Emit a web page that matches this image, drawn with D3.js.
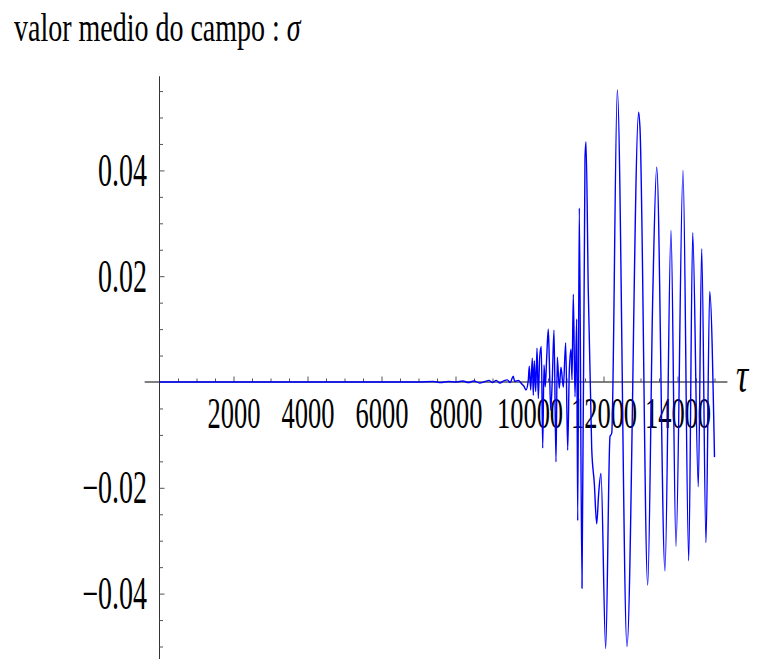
<!DOCTYPE html>
<html>
<head>
<meta charset="utf-8">
<script src="https://cdn.jsdelivr.net/npm/d3@7"></script>
<style>
  html, body { margin: 0; padding: 0; background: #fff; }
  svg { display: block; }
  text { font-family: "Liberation Serif", "Times New Roman", serif; fill: #000; }
</style>
</head>
<body>
<svg id="chart" width="761" height="659"></svg>
<script>
// Mean value of the field sigma as a function of tau
const tau = [0, 7000, 7400, 7600, 7800, 8000, 8200, 8350, 8500, 8650, 8800, 8900, 9000, 9100, 9200,
  9300, 9400, 9480, 9560, 9600, 9700, 9780, 9850, 9905, 9968, 9995, 10032, 10076, 10103, 10130,
  10168, 10203, 10238, 10276, 10319, 10357, 10392, 10427, 10465, 10508, 10535, 10573, 10616, 10662,
  10716, 10751, 10805, 10851, 10914, 10978, 11032, 11076, 11122, 11149, 11184, 11230, 11276, 11303,
  11346, 11419, 11500, 11527, 11589, 11681, 11751, 11816, 11870, 11932, 12059, 12176, 12222, 12373,
  12635, 12951, 12986, 13195, 13330, 13438, 13662, 13824, 13959, 14149, 14303, 14411, 14562, 14654,
  14770, 14870, 15000];

const sigma = [0, 0, 0.0001, -0.0001, 0.0001, 0, 0.0002, -0.0001, 0.0002, -0.0002, 0.0001, 0.0003,
  -0.0001, 0.0003, -0.0002, 0.0002, 0.0004, -0.0001, 0.0011, 0.0001, 0.0003, -0.0003, -0.0008,
  -0.0015, 0.0004, 0.0030, -0.0015, 0.0045, -0.0025, 0.0040, -0.0018, 0.0064, -0.0031, 0.0047,
  0.0067, -0.0125, 0.0032, -0.0009, 0.0047, 0.0100, 0.0043, -0.0053, 0.0004, 0.0098, -0.0151,
  0.0047, -0.0012, 0.0028, -0.0010, 0.0074, -0.0129, 0.0021, 0.0062, 0.0004, 0.0166, -0.0028,
  0.0119, -0.0262, 0.0329, -0.0390, 0.0423, 0.0454, 0.0171, -0.0125, -0.0191, -0.0268, -0.0210,
  -0.0173, -0.0504, -0.0103, -0.0097, 0.0552, -0.0500, 0.0510, 0.0480, -0.0384, 0.0158, 0.0406,
  -0.0357, 0.0287, -0.0311, 0.0400, -0.0338, 0.0282, -0.0198, 0.0252, -0.0304, 0.0171, -0.0142];

const xTickLabels = [2000, 4000, 6000, 8000, 10000, 12000, 14000];
const yTickLabels = [-0.04, -0.02, 0.02, 0.04];
const titleText = "valor medio do campo : ";
const titleSymbol = "σ";
const xAxisSymbol = "τ";

const svg = d3.select("#chart");

const x = d3.scaleLinear().domain([0, 15000]).range([159.5, 714.5]);
const y = d3.scaleLinear().domain([-0.05, 0.05]).range([646.5, 117.5]);

const stretch = 1.65;

// axis lines
svg.append("line")
  .attr("x1", x(-400)).attr("x2", x(15350))
  .attr("y1", y(0)).attr("y2", y(0))
  .attr("stroke", "#000").attr("stroke-width", 1.2);
svg.append("line")
  .attr("x1", x(0)).attr("x2", x(0))
  .attr("y1", y(0.0578)).attr("y2", y(-0.0525))
  .attr("stroke", "#333").attr("stroke-width", 1);

// x minor ticks
const xMinor = d3.range(500, 15001, 500).filter(v => v % 2000 !== 0);
svg.append("g")
  .attr("transform", `translate(0,${y(0)})`)
  .call(d3.axisBottom(x).tickValues(xMinor).tickSizeInner(-3.5).tickSizeOuter(0).tickFormat(""))
  .call(g => g.select(".domain").remove())
  .call(g => g.selectAll("line").attr("stroke", "#555"));

// x major ticks + labels
const gx = svg.append("g")
  .attr("transform", `translate(0,${y(0)})`)
  .call(d3.axisBottom(x).tickValues(xTickLabels).tickSizeInner(-5.5).tickSizeOuter(0)
    .tickFormat(d3.format("d")))
  .call(g => g.select(".domain").remove())
  .call(g => g.selectAll("line").attr("stroke", "#555"));
gx.selectAll("text")
  .attr("y", null).attr("dy", null)
  .attr("transform", `translate(0,46) scale(1,${stretch})`)
  .style("font-size", "26.5px")
  .style("font-family", "'Liberation Serif', 'Times New Roman', serif")
  .attr("fill", "#000");

// y minor ticks
const yMinor = d3.range(-50, 56, 5).map(v => v / 1000).filter(v => Math.abs(Math.round(v * 1000)) % 20 !== 0);
svg.append("g")
  .attr("transform", `translate(${x(0)},0)`)
  .call(d3.axisLeft(y).tickValues(yMinor).tickSizeInner(-3.5).tickSizeOuter(0).tickFormat(""))
  .call(g => g.select(".domain").remove())
  .call(g => g.selectAll("line").attr("stroke", "#555"));

// y major ticks + labels
const gy = svg.append("g")
  .attr("transform", `translate(${x(0)},0)`)
  .call(d3.axisLeft(y).tickValues(yTickLabels).tickSizeInner(-5).tickSizeOuter(0)
    .tickFormat(d => (d < 0 ? "\u2212" : "") + d3.format(".2f")(Math.abs(d))))
  .call(g => g.select(".domain").remove())
  .call(g => g.selectAll("line").attr("stroke", "#555"));
gy.selectAll("text")
  .attr("x", null).attr("dy", null)
  .attr("text-anchor", "end")
  .attr("transform", `translate(-12.5,15) scale(1,${stretch})`)
  .style("font-size", "28px")
  .style("font-family", "'Liberation Serif', 'Times New Roman', serif")
  .attr("fill", "#000");

// data line
const line = d3.line()
  .x((d, i) => x(tau[i]))
  .y((d, i) => y(sigma[i]))
  .curve(d3.curveMonotoneX);
svg.append("path")
  .datum(tau)
  .attr("d", line)
  .attr("fill", "none")
  .attr("stroke", "#0000ff")
  .attr("stroke-width", 1.4)
  .attr("stroke-linejoin", "round");

// title
const title = svg.append("text")
  .attr("transform", `translate(14,41) scale(1,1.45)`)
  .style("font-size", "28px");
title.append("tspan").text(titleText);
title.append("tspan").style("font-style", "italic").text(titleSymbol);

// axis symbol
svg.append("text")
  .attr("transform", `translate(736,${y(0) + 10}) scale(1,1.5)`)
  .style("font-size", "34px")
  .style("font-style", "italic")
  .text(xAxisSymbol);
</script>
</body>
</html>
